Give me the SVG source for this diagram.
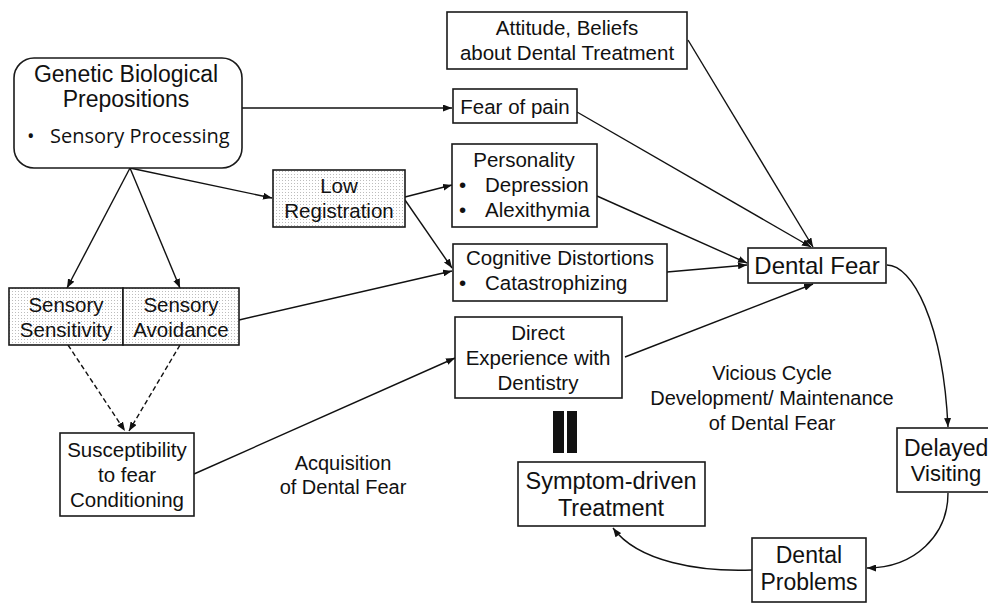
<svg xmlns="http://www.w3.org/2000/svg" width="988" height="603" viewBox="0 0 988 603">
<defs>
<pattern id="dots" width="3" height="3" patternUnits="userSpaceOnUse"><rect width="3" height="3" fill="#fff"/><rect width="1" height="1" fill="#bdbdbd"/></pattern>
<marker id="ah" viewBox="0 0 9 7" refX="9" refY="3.5" markerWidth="9" markerHeight="7" markerUnits="userSpaceOnUse" orient="auto"><path d="M0,0 L9,3.5 L0,7 z" fill="#111"/></marker>
<style>
.box{fill:#fff;stroke:#1a1a1a;stroke-width:1.6}
.st{fill:url(#dots);stroke:#1a1a1a;stroke-width:1.6}
text{font-family:"Liberation Sans",Arial,sans-serif;font-size:20.5px;fill:#111}
.c{text-anchor:middle}
.big{font-size:23px}
.lab{font-size:20px}
.cal{font-family:"Open Sans","Liberation Sans",sans-serif;font-size:20px}
.ln{fill:none;stroke:#111;stroke-width:1.4;marker-end:url(#ah)}
.dash{stroke-dasharray:5,3}
</style>
</defs>
<rect width="988" height="603" fill="#fff"/>
<g id="connectors">
<path class="ln" d="M242,108 L452,108"/>
<path class="ln" d="M130,168 L272,198"/>
<path class="ln" d="M130,168 L67,288"/>
<path class="ln" d="M130,168 L180,288"/>
<path class="ln" d="M405,197 L452,185"/>
<path class="ln" d="M405,200 L452,268"/>
<path class="ln" d="M239,320 L452,271"/>
<path class="ln dash" d="M68,345 L125,431"/>
<path class="ln dash" d="M180,345 L129,431"/>
<path class="ln" d="M194,474 L455,358"/>
<path class="ln" d="M688,40 L813,247"/>
<path class="ln" d="M577,112 L811,247"/>
<path class="ln" d="M597,196 L747,263"/>
<path class="ln" d="M667,272 L747,265"/>
<path class="ln" d="M625,357 L813,284"/>
<path class="ln" d="M887,265 C912,265 943,322 948,427"/>
<path class="ln" d="M948,493 C948,535 915,568 867,568"/>
<path class="ln" d="M752,570 C700,572 638,562 613,528"/>
</g>
<g id="genetic">
<rect class="box" x="14" y="58" width="228" height="110" rx="20"/>
<text class="c big" x="126" y="82">Genetic Biological</text>
<text class="c big" x="126" y="107">Prepositions</text>
<text class="cal" x="27" y="143">•</text>
<text class="cal" x="50" y="143">Sensory Processing</text>
</g>
<g id="low-registration">
<rect class="st" x="273" y="170" width="132" height="57"/>
<text class="c" x="339" y="193">Low</text>
<text class="c" x="339" y="218">Registration</text>
</g>
<g id="sensory-sensitivity">
<rect class="st" x="9" y="288" width="114" height="57"/>
<text class="c" x="66" y="312">Sensory</text>
<text class="c" x="66" y="337">Sensitivity</text>
</g>
<g id="sensory-avoidance">
<rect class="st" x="123" y="288" width="116" height="57"/>
<text class="c" x="181" y="312">Sensory</text>
<text class="c" x="181" y="337">Avoidance</text>
</g>
<g id="susceptibility">
<rect class="box" x="60" y="433" width="134" height="83"/>
<text class="c" x="127" y="457">Susceptibility</text>
<text class="c" x="127" y="482">to fear</text>
<text class="c" x="127" y="507">Conditioning</text>
</g>
<g id="attitude">
<rect class="box" x="447" y="12" width="240" height="57"/>
<text class="c" x="567" y="35">Attitude, Beliefs</text>
<text class="c" x="567" y="60">about Dental Treatment</text>
</g>
<g id="fear-of-pain">
<rect class="box" x="453" y="89" width="124" height="34"/>
<text class="c" x="515" y="114">Fear of pain</text>
</g>
<g id="personality">
<rect class="box" x="452" y="144" width="145" height="83"/>
<text class="c" x="524" y="167">Personality</text>
<text x="459" y="192">•</text>
<text x="485" y="192">Depression</text>
<text x="459" y="217">•</text>
<text x="485" y="217">Alexithymia</text>
</g>
<g id="cognitive">
<rect class="box" x="453" y="244" width="214" height="57"/>
<text class="c" x="560" y="265">Cognitive Distortions</text>
<text x="459" y="290">•</text>
<text x="485" y="290">Catastrophizing</text>
</g>
<g id="direct-experience">
<rect class="box" x="455" y="317" width="167" height="81"/>
<text class="c" x="538" y="340">Direct</text>
<text class="c" x="538" y="365">Experience with</text>
<text class="c" x="538" y="390">Dentistry</text>
</g>
<g id="dental-fear">
<rect class="box" x="748" y="248" width="138" height="35"/>
<text class="c" x="817" y="274" style="font-size:24px">Dental Fear</text>
</g>
<g id="delayed-visiting">
<rect class="box" x="897" y="428" width="100" height="64"/>
<text x="904" y="456" class="big">Delayed</text>
<text class="c" x="946" y="481" style="font-size:22px">Visiting</text>
</g>
<g id="dental-problems">
<rect class="box" x="752" y="538" width="114" height="64"/>
<text class="c big" x="809" y="563">Dental</text>
<text class="c big" x="809" y="590">Problems</text>
</g>
<g id="symptom-driven">
<rect class="box" x="518" y="462" width="187" height="64"/>
<text class="c" x="611" y="489" style="font-size:23.5px">Symptom-driven</text>
<text class="c" x="611" y="516" style="font-size:23.5px">Treatment</text>
</g>
<g id="equals-bars">
<rect x="553" y="411" width="11" height="42" fill="#111"/>
<rect x="567" y="411" width="10" height="42" fill="#111"/>
</g>
<g id="labels">
<text class="c lab" x="343" y="470">Acquisition</text>
<text class="c lab" x="343" y="494">of Dental Fear</text>
<text class="c lab" x="772" y="380">Vicious Cycle</text>
<text class="c lab" x="772" y="405">Development/ Maintenance</text>
<text class="c lab" x="772" y="430">of Dental Fear</text>
</g>
</svg>
